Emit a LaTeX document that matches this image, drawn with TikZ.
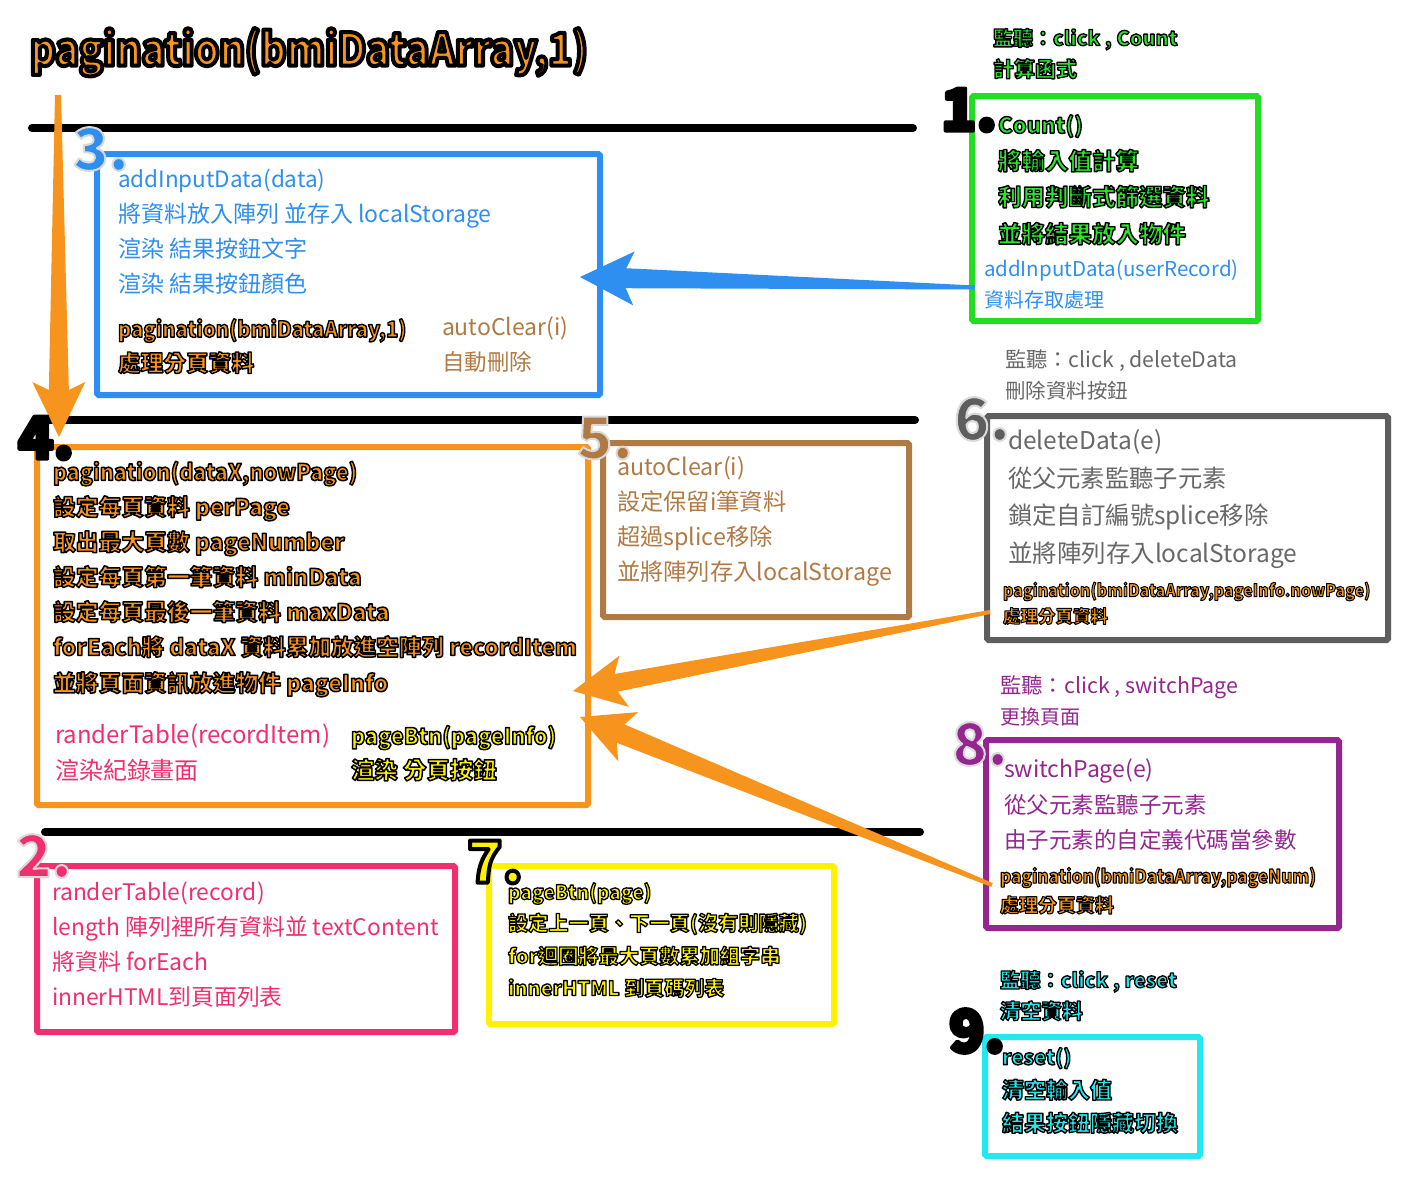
\documentclass[tikz,border=0pt]{standalone}
\usepackage{fontspec}
\setmainfont{Noto Sans CJK TC}
\usetikzlibrary{calc}
\definecolor{cblue}{HTML}{2E8FF0}
\definecolor{cgreen}{HTML}{22DD22}
\definecolor{cgreentxt}{HTML}{2BE52B}
\definecolor{corange}{HTML}{F7941D}
\definecolor{cbrown}{HTML}{B07A45}
\definecolor{cgray}{HTML}{5E5E5E}
\definecolor{cgraytxt}{HTML}{686868}
\definecolor{cpurple}{HTML}{93278F}
\definecolor{cpink}{HTML}{F0306E}
\definecolor{cyellow}{HTML}{FFF200}
\definecolor{ccyan}{HTML}{22E8F0}
% outlined text: fill in the current colour, stroke in one pass
\newcommand\OL[2][1.6]{\special{pdf:literal direct 2 Tr 1 j 0 G #1 w}#2\special{pdf:literal direct 0 Tr}}
\newcommand\GL[2][2]{\special{pdf:literal direct 2 Tr 1 j 0.85 G #1 w}#2\special{pdf:literal direct 0 Tr}}
% tapered arrow: #1 prefix, #2 colour, #3 start, #4 tip, #5 head length, #6 neck, #7 head half width, #8 neck half width, #9 start half width
\newcommand\taper[9]{%
  \coordinate (#1-b) at ($(#4)!#5!(#3)$);
  \coordinate (#1-n) at ($(#4)!#6!(#3)$);
  \fill[#2, line join=round]
    ($(#3)!#9!90:(#4)$) -- ($(#1-n)!#8!90:(#4)$) -- ($(#1-b)!#7!90:(#4)$) -- (#4)
    -- ($(#1-b)!#7!-90:(#4)$) -- ($(#1-n)!#8!-90:(#4)$) -- ($(#3)!#9!-90:(#4)$) -- cycle;}
\begin{document}
\begin{tikzpicture}[x=1pt,y=-1pt,
  box/.style={draw=#1, line width=6pt, outer sep=0pt, inner sep=0pt, rounded corners=1.5pt},
  sepline/.style={line width=8pt, line cap=round, black},
  txr/.style={font=\fontsize{#1pt}{#1pt}\selectfont, text height={0.85*#1pt}, text depth={0.2*#1pt}, anchor=west, inner sep=0pt, outer sep=0pt},
  txb/.style={font=\fontsize{#1pt}{#1pt}\selectfont\bfseries, text height={0.85*#1pt}, text depth={0.2*#1pt}, anchor=west, inner sep=0pt, outer sep=0pt},
  txs/.style 2 args={font=\fontsize{#1pt}{#1pt}\selectfont\bfseries\addfontfeature{FakeStretch=#2}, text height={0.85*#1pt}, text depth={0.2*#1pt}, anchor=west, inner sep=0pt, outer sep=0pt},
  num/.style={font=\fontsize{58pt}{58pt}\selectfont\bfseries, anchor=center, inner sep=0pt}]
\useasboundingbox (0,0) rectangle (1409,1176);
\fill[white] (0,0) rectangle (1409,1176);

% separators
\draw[sepline] (32,128) -- (913,128);
\draw[sepline] (40,420) -- (915,420);
\draw[sepline] (45,832) -- (920,832);

% boxes
\node[box=cgreen, minimum width=286pt, minimum height=225pt] (b1) at (1115,208.5) {};
\node[box=cblue, minimum width=503pt, minimum height=241pt] (b3) at (348.5,274.5) {};
\node[box=corange, minimum width=551pt, minimum height=358pt] (b4) at (312.5,626) {};
\node[box=cbrown, minimum width=306pt, minimum height=174pt] (b5) at (756,530) {};
\node[box=cgray, minimum width=401pt, minimum height=224pt] (b6) at (1187.5,528) {};
\node[box=cpurple, minimum width=353pt, minimum height=188pt] (b8) at (1162.5,834) {};
\node[box=cpink, minimum width=418pt, minimum height=166pt] (b2) at (246,949) {};
\node[box=cyellow, minimum width=345pt, minimum height=158pt] (b7) at (661.5,945) {};
\node[box=ccyan, minimum width=215pt, minimum height=119pt] (b9) at (1092.5,1096.5) {};

% arrows
\coordinate (vs) at (58,95);
\coordinate (vt) at (59,437);
\taper{va}{corange}{vs}{vt}{55pt}{47pt}{26.5pt}{10pt}{3pt}
\coordinate (s1) at ($(b1.west)+(3,79)$);
\coordinate (t1) at ($(b3.east)+(-20,2.5)$);
\taper{ba}{cblue}{s1}{t1}{54pt}{46pt}{27pt}{10pt}{2pt}
\coordinate (s6) at ($(b6.west)+(3,84)$);
\coordinate (t6) at ($(b4.east)+(-15,65)$);
\taper{oa}{corange}{s6}{t6}{52pt}{44pt}{26pt}{9pt}{2pt}
\coordinate (s8) at ($(b8.west)+(6,51)$);
\coordinate (t8) at ($(b4.east)+(-8,91)$);
\taper{ob}{corange}{s8}{t8}{52pt}{44pt}{26.5pt}{10pt}{2pt}

% title
\node[txs={45}{0.87}, text=corange] (title) at (30,51) {\OL[4]{pagination(bmiDataArray,1)}};

% group 1
\node[txb=20, text=cgreentxt] (g1) at (993,39) {\OL[1.3]{監聽：click , Count}};
\node[txb=21, text=cgreentxt] (g2) at (993,70) {\OL[1.3]{計算函式}};
\node[txb=22, text=cgreentxt] (g3) at (998,126) {\OL[1.4]{Count()}};
\node[txb=23.5, text=cgreentxt] (g4) at (998,162) {\OL[1.4]{將輸入值計算}};
\node[txb=23.5, text=cgreentxt] (g5) at (998,198) {\OL[1.4]{利用判斷式篩選資料}};
\node[txb=23.5, text=cgreentxt] (g6) at (998,235) {\OL[1.4]{並將結果放入物件}};
\node[txr=20.5, text=cblue] (g7) at (984,270) {addInputData(userRecord)};
\node[txr=20, text=cblue] (g8) at (984,301) {資料存取處理};

% group 3
\node[txr=22.5, text=cblue] (c1) at (118,180) {addInputData(data)};
\node[txr=23, text=cblue] (c2) at (118,215) {將資料放入陣列 並存入 localStorage};
\node[txr=23, text=cblue] (c3) at (118,250) {渲染 結果按鈕文字};
\node[txr=23, text=cblue] (c4) at (118,285) {渲染 結果按鈕顏色};
\node[txs={22}{0.92}, text=corange] (c5) at (118,330) {\OL[1.4]{pagination(bmiDataArray,1)}};
\node[txb=22.7, text=corange] (c6) at (118,364) {\OL[1.4]{處理分頁資料}};
\node[txr=23, text=cbrown] (c7) at (442,328) {autoClear(i)};
\node[txr=22.5, text=cbrown] (c8) at (442,363) {自動刪除};

% group 4
\node[txs={22.8}{0.94}, text=corange] (d1) at (53,473) {\OL[1.5]{pagination(dataX,nowPage)}};
\node[txb=22.8, text=corange] (d2) at (53,508) {\OL[1.5]{設定每頁資料 perPage}};
\node[txb=22.8, text=corange] (d3) at (53,543) {\OL[1.5]{取出最大頁數 pageNumber}};
\node[txb=22.8, text=corange] (d4) at (53,578) {\OL[1.5]{設定每頁第一筆資料 minData}};
\node[txb=22.8, text=corange] (d5) at (53,613) {\OL[1.5]{設定每頁最後一筆資料 maxData}};
\node[txb=22.6, text=corange] (d6) at (53,648) {\OL[1.5]{forEach將 dataX 資料累加放進空陣列 recordItem}};
\node[txb=22.8, text=corange] (d7) at (53,684) {\OL[1.5]{並將頁面資訊放進物件 pageInfo}};
\node[txr=24, text=cpink] (d8) at (55,736) {randerTable(recordItem)};
\node[txr=24, text=cpink] (d9) at (55,772) {渲染紀錄畫面};
\node[txs={22.5}{0.96}, text=cyellow] (d10) at (351,737) {\OL[1.5]{pageBtn(pageInfo)}};
\node[txb=23.4, text=cyellow] (d11) at (351,771) {\OL[1.5]{渲染 分頁按鈕}};

% group 5
\node[txr=23.3, text=cbrown] (e1) at (617,468) {autoClear(i)};
\node[txr=23.3, text=cbrown] (e2) at (617,503) {設定保留i筆資料};
\node[txr=23.3, text=cbrown] (e3) at (617,538) {超過splice移除};
\node[txr=23.3, text=cbrown] (e4) at (617,573) {並將陣列存入localStorage};

% group 6
\node[txr=21.3, text=cgraytxt] (f1) at (1005,361) {監聽：click , deleteData};
\node[txr=20.5, text=cgraytxt] (f2) at (1005,392) {刪除資料按鈕};
\node[txr=24.5, text=cgraytxt] (f3) at (1008,442) {deleteData(e)};
\node[txr=24.3, text=cgraytxt] (f4) at (1008,480) {從父元素監聽子元素};
\node[txr=24.4, text=cgraytxt] (f5) at (1008,517) {鎖定自訂編號splice移除};
\node[txr=24.5, text=cgraytxt] (f6) at (1008,555) {並將陣列存入localStorage};
\node[txs={17.5}{0.91}, text=corange] (f7) at (1003,591) {\OL[1]{pagination(bmiDataArray,pageInfo.nowPage)}};
\node[txb=17.5, text=corange] (f8) at (1003,617) {\OL[1]{處理分頁資料}};

% group 8
\node[txr=21.4, text=cpurple] (h1) at (1000,687) {監聽：click , switchPage};
\node[txr=20, text=cpurple] (h2) at (1000,718) {更換頁面};
\node[txr=23, text=cpurple] (h3) at (1004,770) {switchPage(e)};
\node[txr=22.5, text=cpurple] (h4) at (1004,806) {從父元素監聽子元素};
\node[txr=22.5, text=cpurple] (h5) at (1004,841) {由子元素的自定義代碼當參數};
\node[txs={19}{0.9}, text=corange] (h6) at (1000,877) {\OL[1.1]{pagination(bmiDataArray,pageNum)}};
\node[txb=19, text=corange] (h7) at (1000,906) {\OL[1.1]{處理分頁資料}};

% group 2
\node[txr=22.8, text=cpink] (i1) at (52,893) {randerTable(record)};
\node[txr=22.8, text=cpink] (i2) at (52,928) {length 陣列裡所有資料並 textContent};
\node[txr=23, text=cpink] (i3) at (52,963) {將資料 forEach};
\node[txr=22.8, text=cpink] (i4) at (52,998) {innerHTML到頁面列表};

% group 7
\node[txs={20}{0.96}, text=cyellow] (j1) at (508,893) {\OL[1.3]{pageBtn(page)}};
\node[txb=20.2, text=cyellow] (j2) at (508,924) {\OL[1.3]{設定上一頁、下一頁(沒有則隱藏)}};
\node[txb=20.2, text=cyellow] (j3) at (508,957) {\OL[1.3]{for迴圈將最大頁數累加組字串}};
\node[txb=20, text=cyellow] (j4) at (508,989) {\OL[1.3]{innerHTML 到頁碼列表}};

% group 9
\node[txb=20.2, text=ccyan] (k1) at (1000,981) {\OL[1.3]{監聽：click , reset}};
\node[txb=20.7, text=ccyan] (k2) at (1000,1012) {\OL[1.3]{清空資料}};
\node[txb=20.5, text=ccyan] (k3) at (1002,1058) {\OL[1.4]{reset()}};
\node[txb=22, text=ccyan] (k4) at (1002,1091) {\OL[1.4]{清空輸入值}};
\node[txb=22, text=ccyan] (k5) at (1002,1124) {\OL[1.4]{結果按鈕隱藏切換}};

% number labels
\node[num, text=cblue] (n3) at (101,149) {\GL{3.}};
\node[num, text=black] (n1) at (969,110) {\OL[4]{1.}};
\node[num, text=black] (n4) at (46,438) {\OL[4]{4.}};
\node[num, text=cbrown] (n5) at (605,438) {\GL{5.}};
\node[num, text=cgray] (n6) at (982,419) {\GL{6.}};
\node[num, text=cpurple] (n8) at (980,744) {\GL{8.}};
\node[num, text=cpink] (n2) at (44,856) {\GL{2.}};
\node[num, text=cyellow] (n7) at (495,862) {\OL[4]{7.}};
\node[num, text=black] (n9) at (977,1031) {\OL[4]{9.}};
\end{tikzpicture}
\end{document}
